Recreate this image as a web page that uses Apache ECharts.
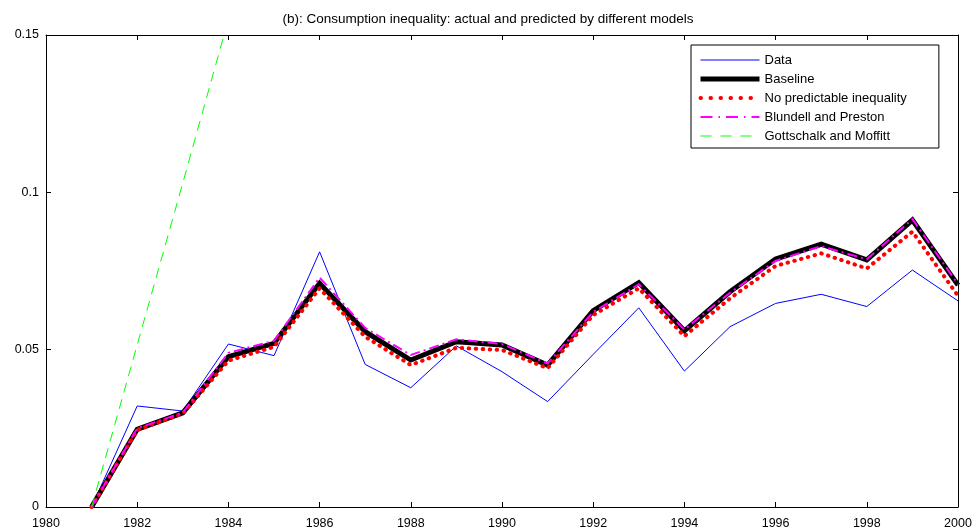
<!DOCTYPE html>
<html>
<head>
<meta charset="utf-8">
<script src="https://cdn.jsdelivr.net/npm/echarts@6/dist/echarts.min.js"></script>
<style>
html,body{margin:0;padding:0;background:#fff;}
#chart{width:976px;height:532px;}
</style>
</head>
<body>
<div id="chart"></div>
<script>
var years = [1981,1982,1983,1984,1985,1986,1987,1988,1989,1990,1991,1992,1993,1994,1995,1996,1997,1998,1999,2000];
var dataSeries = [0, 0.0321, 0.0305, 0.0518, 0.0481, 0.0811, 0.0453, 0.0379, 0.0512, 0.0430, 0.0335, 0.0485, 0.0633, 0.0432, 0.0573, 0.0647, 0.0676, 0.0637, 0.0753, 0.0655];
var baseline = [0, 0.0247, 0.0299, 0.0478, 0.0520, 0.0711, 0.0557, 0.0467, 0.0525, 0.0515, 0.0451, 0.0624, 0.0713, 0.0560, 0.0684, 0.0788, 0.0835, 0.0785, 0.0912, 0.0705];
var noPredictable = [0, 0.0245, 0.0297, 0.0465, 0.0509, 0.0695, 0.0541, 0.0451, 0.0506, 0.0499, 0.0441, 0.0610, 0.0695, 0.0543, 0.0663, 0.0766, 0.0806, 0.0758, 0.0875, 0.0671];
var blundell = [0, 0.0250, 0.0300, 0.0490, 0.0528, 0.0729, 0.0569, 0.0483, 0.0533, 0.0518, 0.0456, 0.0620, 0.0708, 0.0564, 0.0681, 0.0782, 0.0829, 0.0787, 0.0915, 0.0708];
var gottschalk = [0, 0.0515, 0.103, 0.155, null, null, null, null, null, null, null, null, null, null, null, null, null, null, null, null];
var seriesNames = ['Data', 'Baseline', 'No predictable inequality', 'Blundell and Preston', 'Gottschalk and Moffitt'];
var xTicks = {min: 1980, max: 2000, interval: 2};
var yTicks = {min: 0, max: 0.15, interval: 0.05};

function pairs(vals) {
  return years.map(function (y, i) { return [y, vals[i]]; });
}

var FONT = 'Liberation Sans, Arial, sans-serif';
var styles = [
  {color: '#0000ff', width: 1, type: 'solid'},
  {color: '#000000', width: 5, type: 'solid'},
  {color: '#ff0000', width: 4, type: [0.5, 6.5], cap: 'round'},
  {color: '#ff00ff', width: 2, type: [10, 4, 2, 4]},
  {color: '#00ff00', width: 1, type: [10, 7]}
];
var legendDash = [null, null, [0.5, 9.5], [12, 6, 1.5, 6], [11, 9]];
var allData = [dataSeries, baseline, noPredictable, blundell, gottschalk];

var chart = echarts.init(document.getElementById('chart'));
var axisBase = {
  type: 'value',
  splitLine: {show: false},
  axisLine: {show: true, onZero: false, lineStyle: {color: '#000', width: 1}},
  axisTick: {show: true, inside: true, length: 5, lineStyle: {color: '#000'}},
};
chart.setOption({
  animation: false,
  backgroundColor: '#fff',
  title: {
    text: '(b): Consumption inequality: actual and predicted by different models',
    left: 'center', top: 7,
    textStyle: {fontFamily: FONT, fontSize: 13.5, fontWeight: 'normal', color: '#000'}
  },
  grid: {left: 46, right: 18, top: 35, bottom: 25},
  legend: {
    data: seriesNames.map(function (n, i) {
      var ls = Object.assign({}, styles[i]);
      if (legendDash[i]) { ls.type = legendDash[i]; }
      return {name: n, itemStyle: {opacity: 0, borderWidth: 0}, lineStyle: ls};
    }),
    orient: 'vertical',
    left: 691, top: 45,
    itemWidth: 59, itemHeight: 14, itemGap: 5,
    padding: [8, 32, 5, 7],
    borderColor: '#000', borderWidth: 1,
    backgroundColor: '#fff',
    textStyle: {fontFamily: FONT, fontSize: 13, lineHeight: 14, color: '#000', padding: [0,0,0,0]}
  },
  xAxis: [
    Object.assign({}, axisBase, {
      position: 'bottom', min: xTicks.min, max: xTicks.max, interval: xTicks.interval,
      axisLabel: {color: '#000', fontFamily: FONT, fontSize: 12.5, margin: 10, formatter: function (v) { return String(v); }}
    }),
    Object.assign({}, axisBase, {
      position: 'top', min: xTicks.min, max: xTicks.max, interval: xTicks.interval,
      axisLabel: {show: false}
    })
  ],
  yAxis: [
    Object.assign({}, axisBase, {
      position: 'left', min: yTicks.min, max: yTicks.max, interval: yTicks.interval,
      axisLabel: {color: '#000', fontFamily: FONT, fontSize: 12.5, margin: 7}
    }),
    Object.assign({}, axisBase, {
      position: 'right', min: yTicks.min, max: yTicks.max, interval: yTicks.interval,
      axisLabel: {show: false}
    })
  ],
  series: seriesNames.map(function (n, i) {
    return {
      name: n, type: 'line', data: pairs(allData[i]), symbol: 'none', clip: true,
      color: styles[i].color, lineStyle: Object.assign({join: 'miter'}, styles[i])
    };
  })
});
</script>
</body>
</html>
